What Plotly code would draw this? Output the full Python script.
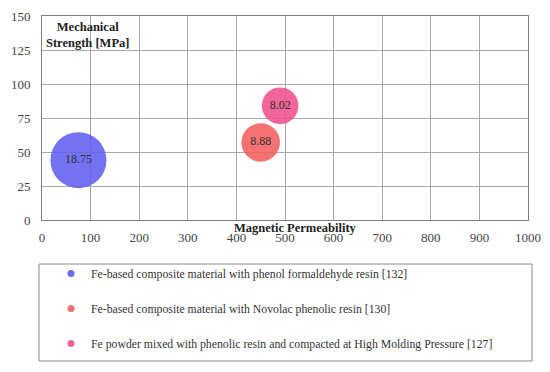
import plotly.graph_objects as go

names = [
    "Fe-based composite material with phenol formaldehyde resin [132]",
    "Fe-based composite material with Novolac phenolic resin [130]",
    "Fe powder mixed with phenolic resin and compacted at High Molding Pressure [127]",
]
permeability = [75, 450, 490]
strength = [44, 57, 84]
bubble_value = [18.75, 8.88, 8.02]
labels = ["18.75", "8.88", "8.02"]
colors = ["rgba(95,95,240,0.88)", "rgba(242,95,95,0.88)", "rgba(240,80,140,0.88)"]
legend_colors = ["#6a6af0", "#f07070", "#f0608f"]

x_ticks = list(range(0, 1001, 100))
y_ticks = list(range(0, 151, 25))

FONT = "Liberation Serif"
sizeref = max(bubble_value) / (2 * 28 ** 2)

fig = go.Figure()
for i in range(3):
    fig.add_trace(go.Scatter(
        x=[permeability[i]], y=[strength[i]],
        mode="markers+text",
        text=[labels[i]],
        textposition="middle center",
        textfont=dict(family=FONT, size=12, color="#333"),
        marker=dict(size=[bubble_value[i]], sizemode="area", sizeref=sizeref,
                    color=colors[i], opacity=1, line=dict(width=0)),
        name=names[i],
        showlegend=False,
        cliponaxis=False,
    ))
for i in range(3):
    fig.add_trace(go.Scatter(
        x=[None], y=[None], mode="markers",
        marker=dict(size=7, color=legend_colors[i]),
        name=names[i],
        legendgroup=f"g{i}",
        showlegend=True,
    ))

# page body has an 8px margin, so the figure is laid out 8px up/left
fig.update_layout(
    width=550, height=372,
    margin=dict(l=34, r=30, t=8, b=160, autoexpand=False),
    paper_bgcolor="white", plot_bgcolor="white",
    font=dict(family=FONT, size=12, color="#333"),
    showlegend=True,
    legend=dict(
        x=(51 - 42) / 486, xanchor="left",
        y=(220 - 259) / 204, yanchor="top",
        bgcolor="rgba(0,0,0,0)", borderwidth=0,
        font=dict(family=FONT, size=11.75, color="#333"),
        traceorder="grouped",
        tracegroupgap=16,
    ),
    xaxis=dict(range=[0, 1000], tickvals=x_ticks, showgrid=True, gridcolor="#a8a8a8",
               gridwidth=1, zeroline=False, showline=True, linecolor="#808080",
               linewidth=1, mirror=True, ticks="", automargin=False,
               ticklabelstandoff=5,
               tickfont=dict(size=13, color="#444")),
    yaxis=dict(range=[0, 150], tickvals=y_ticks, showgrid=True, gridcolor="#a8a8a8",
               gridwidth=1, zeroline=False, showline=True, linecolor="#808080",
               linewidth=1, mirror=True, ticks="", automargin=False,
               ticklabelstandoff=8,
               tickfont=dict(size=13, color="#444")),
    annotations=[
        dict(text="<b>Mechanical<br>Strength [MPa]</b>", xref="paper", yref="paper",
             x=(87 - 42) / 486, y=1 - (18 - 16) / 204, xanchor="center", yanchor="top",
             showarrow=False, font=dict(family=FONT, size=12.5, color="#222"), align="center"),
        dict(text="<b>Magnetic Permeability</b>", xref="paper", yref="paper",
             x=(295 - 42) / 486, y=(220 - 228) / 204, xanchor="center", yanchor="middle",
             showarrow=False, font=dict(family=FONT, size=12.5, color="#222")),
    ],
    shapes=[
        dict(type="rect", xref="paper", yref="paper",
             x0=(39 - 42) / 486, x1=(532 - 42) / 486,
             y0=(220 - 264) / 204, y1=(220 - 361) / 204,
             line=dict(color="#888", width=1), fillcolor="rgba(0,0,0,0)"),
    ],
)

fig.write_html("out.html")
